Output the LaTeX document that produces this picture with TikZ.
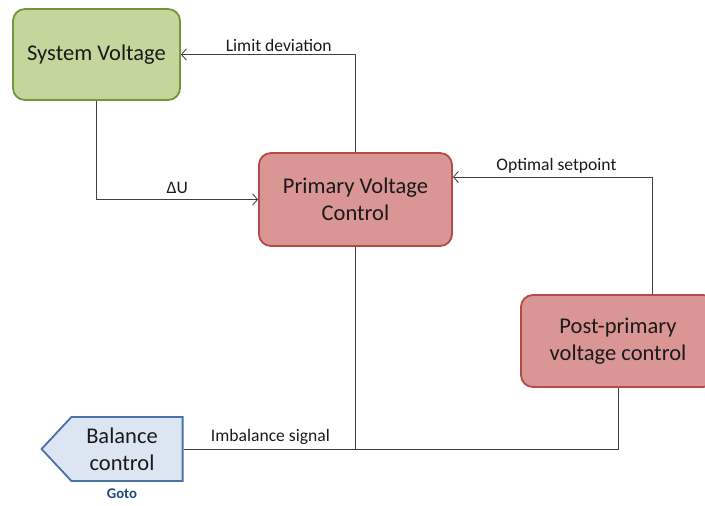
\documentclass[tikz,border=0pt]{standalone}
\usepackage{fontspec}
\setmainfont{Carlito}
\usetikzlibrary{shapes.symbols,arrows.meta}
\definecolor{svfill}{HTML}{C3D69B}
\definecolor{svline}{HTML}{77933C}
\definecolor{redfill}{HTML}{D99694}
\definecolor{redline}{HTML}{B64A47}
\definecolor{bcfill}{HTML}{DCE6F2}
\definecolor{bcline}{HTML}{4A72A8}
\definecolor{gotoblue}{HTML}{1F497D}
\definecolor{txt}{HTML}{1A1A1A}

\begin{document}
\begin{tikzpicture}[x=0.025cm,y=-0.025cm,
   >={Straight Barb[length=3.5pt,width=8pt]},
   block/.style={draw,line width=1.3pt,rounded corners=0.3cm,align=center,
      text=txt,font=\fontsize{16}{19}\selectfont,inner sep=0pt},
   green block/.style={block,fill=svfill,draw=svline},
   red block/.style={block,fill=redfill,draw=redline},
   link/.style={draw=black!75,line width=0.6pt},
   lbl/.style={text=txt,font=\fontsize{12.5}{14}\selectfont,inner sep=2pt}]
   \useasboundingbox (0,0) rectangle (705,506);
   \node[green block,minimum width=4.175cm,minimum height=2.275cm] (sv) at (96.5,54.5) {System Voltage};
   \node[red block,minimum width=4.825cm,minimum height=2.325cm] (pvc) at (355.5,199.5) {Primary Voltage\\Control};
   \node[red block,minimum width=4.85cm,minimum height=2.3cm] (ppc) at (618,341) {Post-primary\\voltage control};
   \node[signal,signal to=west,signal pointer angle=94,draw=bcline,fill=bcfill,line width=1.3pt,
      minimum width=3.525cm,minimum height=1.6cm,inner sep=0pt,align=center,
      text=txt,font=\fontsize{16}{19}\selectfont] (bc) at (127,449) {\hspace*{-0.25cm}Balance\\\hspace*{-0.25cm}control};
   \node[font=\fontsize{10.5}{12}\selectfont\bfseries,text=gotoblue] (go) at (122,494) {Goto};

   \draw[link,->] (pvc.north) |- (sv.east) node[lbl,pos=0.72,above] {Limit deviation};
   \draw[link,->] (sv.south) |- (pvc.west) node[lbl,pos=0.75,above,yshift=2pt] {ΔU};
   \draw[link,->] ([xshift=0.85cm]ppc.north) |- ([yshift=0.5625cm]pvc.east) node[lbl,pos=0.74,above] {Optimal setpoint};
   \draw[link] (ppc.south) |- (bc.east) node[lbl,pos=0.9,above,yshift=1pt] {Imbalance signal};
   \draw[link] (pvc.south) -- (pvc.south |- bc.east);
\end{tikzpicture}
\end{document}
